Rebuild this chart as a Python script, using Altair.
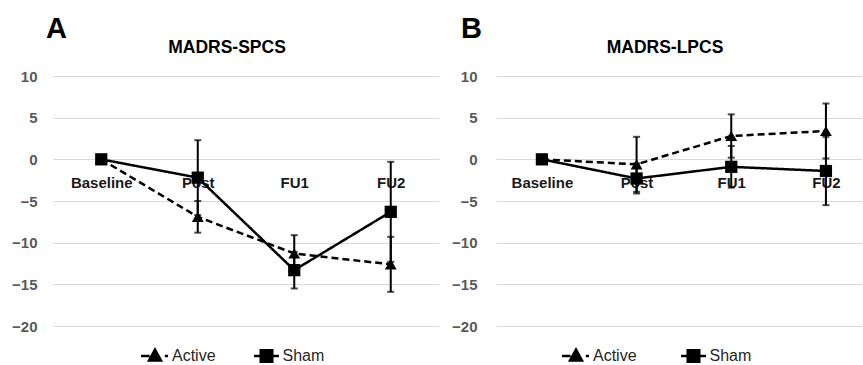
import altair as alt
import pandas as pd

# ---------------- data ----------------
times = ["Baseline", "Post", "FU1", "FU2"]
series = ["Active", "Sham"]
letters = ["A", "B"]
titles = ["MADRS-SPCS", "MADRS-LPCS"]

a_active_mean = [0, -6.9, -11.3, -12.6]
a_active_err = [0, 1.9, 2.2, 3.3]
a_sham_mean = [0, -2.2, -13.3, -6.3]
a_sham_err = [0, 4.5, 2.2, 6.0]

b_active_mean = [0, -0.6, 2.8, 3.4]
b_active_err = [0, 3.3, 2.6, 3.3]
b_sham_mean = [0, -2.3, -0.9, -1.4]
b_sham_err = [0, 1.8, 2.5, 4.1]

y_ticks = [-20, -15, -10, -5, 0, 5, 10]

FONT = "Liberation Sans"

# legend symbols: line + marker, in units of 8px (size 256)
ACTIVE_PATH = ("M-1.875,0H-0.8 M1.1,0H1.5 "
               "M-0.125,-0.8L0.62,0.55L-0.87,0.55Z")
SHAM_PATH = ("M-1.56,0H1.56 "
             "M-0.72,-0.72H0.72V0.72H-0.72Z")


def make_table(am, ae, sm, se):
    rows = []
    for s, mean, err in (("Active", am, ae), ("Sham", sm, se)):
        for t, m, e in zip(times, mean, err):
            rows.append({"time": t, "series": s, "mean": m, "err": e,
                         "lo": m - e, "hi": m + e})
    return pd.DataFrame(rows)


legend_df = pd.DataFrame({"series": series})


def panel(letter, title, df, width, pad, align, label_pad, legend_range,
          letter_x, title_x):
    x_enc = alt.X(
        "time:N", sort=times,
        scale=alt.Scale(type="point", padding=pad, align=align),
        axis=alt.Axis(title=None, orient="bottom", offset=-166.67, domain=False,
                      ticks=False, labelAngle=0, labelFont=FONT, labelFontSize=15,
                      labelFontWeight="bold", labelColor="#1a1a1a", labelPadding=16,
                      labelBaseline="top", grid=False, zindex=0),
    )
    y_scale = alt.Scale(domain=[-20, 10], nice=False, zero=False)
    y_axis = alt.Axis(values=y_ticks, title=None, domain=False, ticks=False, tickSize=0,
                      labelFont=FONT, labelFontSize=15, labelFontWeight="bold",
                      labelColor="#595959", labelPadding=label_pad,
                      gridColor="#d9d9d9", gridWidth=1, minExtent=53, maxExtent=53,
                      zindex=0)

    base = alt.Chart(df)
    err = base.transform_filter("datum.err > 0")

    rules = err.mark_rule(color="black", strokeWidth=2).encode(
        x=x_enc, y=alt.Y("lo:Q", scale=y_scale, axis=y_axis), y2="hi:Q")
    cap_lo = err.mark_tick(color="black", size=7, thickness=2, orient="horizontal").encode(
        x=x_enc, y=alt.Y("lo:Q", scale=y_scale, axis=y_axis))
    cap_hi = err.mark_tick(color="black", size=7, thickness=2, orient="horizontal").encode(
        x=x_enc, y=alt.Y("hi:Q", scale=y_scale, axis=y_axis))

    lines = base.mark_line(color="black", strokeWidth=2.5).encode(
        x=x_enc, y=alt.Y("mean:Q", scale=y_scale, axis=y_axis),
        detail="series:N",
        strokeDash=alt.StrokeDash("series:N", scale=alt.Scale(domain=series, range=[[7, 4], [1, 0]]),
                                  legend=None),
    )
    tri = base.transform_filter("datum.series == 'Active'").mark_point(
        shape="triangle-up", filled=True, size=140, color="black", opacity=1).encode(
        x=x_enc, y=alt.Y("mean:Q", scale=y_scale, axis=y_axis))
    sq = base.transform_filter("datum.series == 'Sham'").mark_point(
        shape="square", filled=True, size=150, color="black", opacity=1).encode(
        x=x_enc, y=alt.Y("mean:Q", scale=y_scale, axis=y_axis))

    main = alt.layer(rules, cap_lo, cap_hi, lines, tri, sq)

    # legend (line + marker symbol, then label), laid out by a point scale
    leg_x = alt.X("series:N", scale=alt.Scale(type="point", domain=series, range=legend_range,
                                              padding=0),
                  axis=None)
    leg_base = alt.Chart(legend_df)
    leg_sym = leg_base.mark_point(filled=True, fill="black", stroke="black", strokeWidth=2.5,
                                  size=256, opacity=1).encode(
        x=leg_x, y=alt.value(280),
        shape=alt.Shape("series:N", scale=alt.Scale(domain=series, range=[ACTIVE_PATH, SHAM_PATH]),
                        legend=None))
    leg_txt = leg_base.mark_text(font=FONT, fontSize=16, color="#262626", align="left",
                                 baseline="middle", dx=16).encode(
        x=leg_x, y=alt.value(280), text="series:N")

    letter_txt = alt.Chart(pd.DataFrame({"t": [letter]})).mark_text(
        font=FONT, fontSize=29, fontWeight="bold", color="black", align="left",
        baseline="alphabetic").encode(text="t:N", x=alt.value(letter_x), y=alt.value(-38))

    title_txt = alt.Chart(pd.DataFrame({"t": [title]})).mark_text(
        font=FONT, fontSize=17.5, fontWeight="bold", color="black", align="center",
        baseline="alphabetic").encode(text="t:N", x=alt.value(title_x), y=alt.value(-23))

    legend = alt.layer(leg_sym, leg_txt)

    return alt.layer(main, legend, letter_txt, title_txt).resolve_scale(
        x="independent", shape="independent"
    ).properties(width=width, height=250)


dfA = make_table(a_active_mean, a_active_err, a_sham_mean, a_sham_err)
dfB = make_table(b_active_mean, b_active_err, b_sham_mean, b_sham_err)

pA = panel(letters[0], titles[0], dfA, 386, 0.5, 0.5, 16, [103, 213.5], -7, 174)
pB = panel(letters[1], titles[1], dfB, 366, 0.433, 0.56, 19, [81, 197.5], -35, 169)

chart = alt.hconcat(pA, pB, spacing=4).resolve_scale(
    shape="independent", strokeDash="independent", x="independent", y="independent"
).properties(
    padding={"left": 0, "top": 15, "right": 0, "bottom": 0}
).configure_view(stroke=None)

chart.save("out.html", embed_options={"renderer": "svg", "actions": False})
